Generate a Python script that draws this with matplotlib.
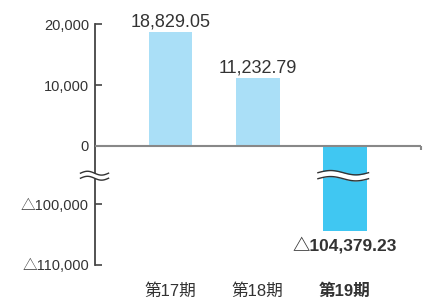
import numpy as np
import matplotlib
matplotlib.use("Agg")
import matplotlib.pyplot as plt
import matplotlib.transforms as mtransforms

plt.rcParams['font.family'] = ['Liberation Sans', 'Noto Sans CJK JP', 'DejaVu Sans']

periods = ["第17期", "第18期", "第19期"]
values = [18829.05, 11232.79, -104379.23]
value_labels = ["18,829.05", "11,232.79", "△104,379.23"]
yticks = [20000, 10000, 0, -100000, -110000]
ytick_labels = ["20,000", "10,000", "0", "△100,000", "△110,000"]

light = "#aadff7"
dark = "#40c7f2"

# broken axis: squeeze 0..-CUT into SQ display units
CUT = 94400
SQ = 4000

def fwd(y):
    y = np.asarray(y, float)
    return np.where(y >= 0, y, np.where(y >= -CUT, y * SQ / CUT, y + CUT - SQ))

def inv(u):
    u = np.asarray(u, float)
    return np.where(u >= 0, u, np.where(u >= -SQ, u * CUT / SQ, u - CUT + SQ))

fig = plt.figure(figsize=(4.3, 2.98), dpi=100)
ax = fig.add_axes([0.2198, 0.111, 0.759, 0.807])
ax.set_yscale('function', functions=(fwd, inv))

x = np.arange(len(periods))
colors = [light, light, dark]
ax.bar(x, values, width=0.5, color=colors, zorder=2)

ax.set_xlim(-0.87, 2.87)
ax.set_ylim(-110000, 20000)

ax.set_yticks(yticks)
ax.set_yticklabels(ytick_labels)
ax.tick_params(axis='y', direction='in', length=5, width=1.2, color='#444',
               labelsize=10.5, labelcolor='#333', pad=4)
ax.set_xticks(x)
ax.set_xticklabels(periods)
ax.tick_params(axis='x', length=0, labelsize=12, labelcolor='#333', pad=13)
ax.get_xticklabels()[2].set_fontweight('bold')

for s in ['top', 'right', 'bottom']:
    ax.spines[s].set_visible(False)
ax.spines['left'].set_color('#444')
ax.spines['left'].set_linewidth(1.3)

# zero line with small tick at the right end
ax.axhline(0, color='#888', lw=1.5, zorder=3)
zero_frac = ax.transAxes.inverted().transform(ax.transData.transform((0, 0)))[1]
ax.plot([1, 1], [zero_frac, zero_frac - 0.018], transform=ax.transAxes,
        color='#888', lw=1.5, clip_on=False, solid_capstyle='butt')

# value labels
for xi, v, lab in zip(x, values, value_labels):
    if v >= 0:
        ax.annotate(lab, (xi, v), xytext=(0, 3.5), textcoords='offset points',
                    ha='center', va='baseline', fontsize=13, color='#333')
    else:
        ax.annotate(lab, (xi, v), xytext=(0, -4.5), textcoords='offset points',
                    ha='center', va='top', fontsize=12.5, color='#333',
                    fontweight='bold')

# break marks
def wave(trans, xc, half, yc, gap, amp):
    t = np.linspace(0, 1, 60)
    xs = xc + (t - 0.5) * 2 * half
    ys = yc + amp * np.sin(2 * np.pi * t)
    ax.fill_between(xs, ys - gap / 2, ys + gap / 2, transform=trans,
                    color='white', lw=0, zorder=6, clip_on=False)
    ax.plot(xs, ys + gap / 2, transform=trans, color='#333', lw=1, zorder=7, clip_on=False)
    ax.plot(xs, ys - gap / 2, transform=trans, color='#333', lw=1, zorder=7, clip_on=False)

yb = 0.371
wave(ax.transAxes, 0, 0.043, yb, 0.021, 0.008)
bt = mtransforms.blended_transform_factory(ax.transData, ax.transAxes)
wave(bt, 2 - 0.02, 0.29, yb, 0.025, 0.009)

fig.savefig("out.png", dpi=100)
